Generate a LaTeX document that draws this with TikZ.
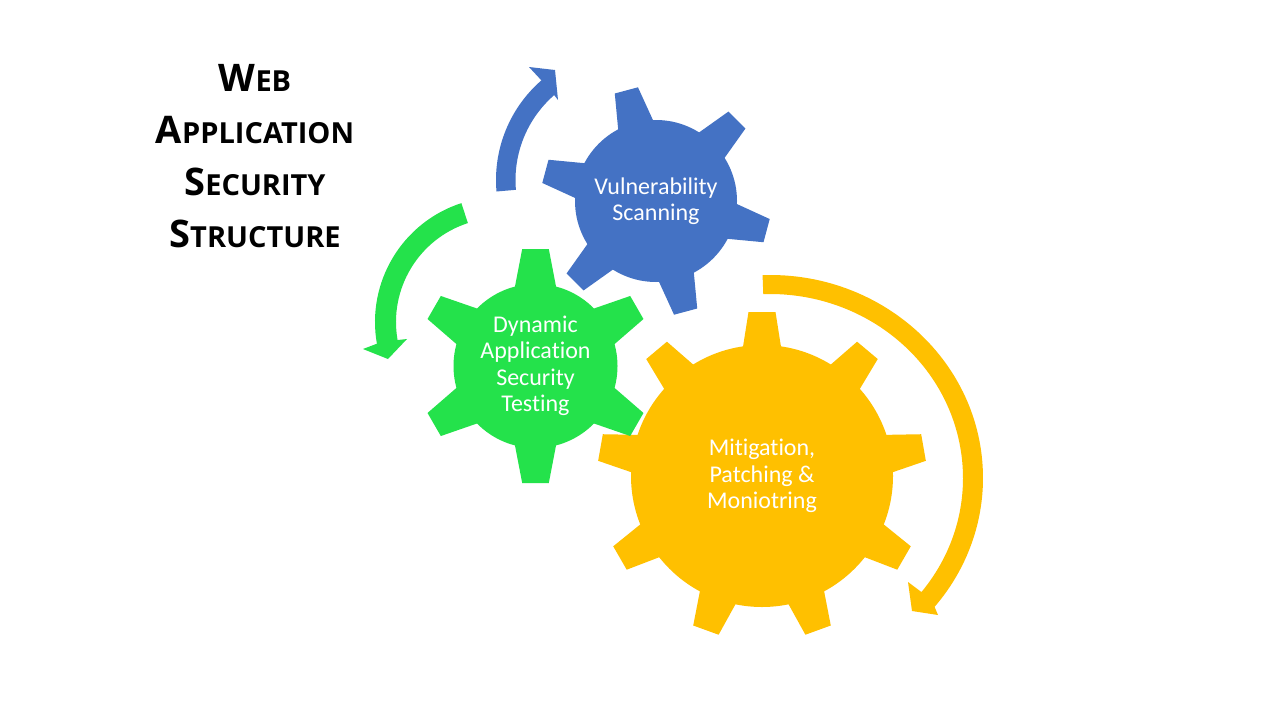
\documentclass[tikz,border=0pt]{standalone}
\usepackage{fontspec}
\setmainfont{Carlito}[Ligatures=NoCommon]
\newfontfamily\titlefont{Open Sans}
\usepackage{tikz}
\usetikzlibrary{calc}
\definecolor{gearblue}{HTML}{4472C4}
\definecolor{geargreen}{HTML}{24E24B}
\definecolor{gearyellow}{HTML}{FFC000}
\newcommand{\tcap}[2]{{\fontsize{38}{52}\selectfont #1}{\fontsize{29}{52}\selectfont #2}}
% colour, centre, inner radius, outer radius, teeth, first angle, tip half width, base half width
\newcommand{\gear}[8]{%
	\fill[#1] (#2) circle[radius=#3];
	\foreach \k in {1,...,#5}{
		\pgfmathsetmacro{\ga}{#6+(\k-1)*360/#5}
		\fill[#1, shift={(#2)}, rotate=-\ga]
			({#3-5},-#8) -- (#4,-#7) -- (#4,#7) -- ({#3-5},#8) -- cycle;
	}
}

\begin{document}
\begin{tikzpicture}[
			x=1pt, y=-1pt,
			title/.style={
					align=center, inner sep=0pt, font=\titlefont\bfseries\fontsize{38}{52}\selectfont
				},
			geartext/.style={
					align=center, inner sep=0pt, text=white, font=\fontsize{24}{26.5}\selectfont
				}
		]
		\fill[white] (0,0) rectangle (1280,720);
		\useasboundingbox (0,0) rectangle (1280,720);

		% Centres of the gears and of the round arrows
		\coordinate (vsc) at (656,201);
		\coordinate (dastc) at (535.5,366);
		\coordinate (mpmc) at (762,476);
		\coordinate (varc) at (628,180);
		\coordinate (darc) at (500,322);
		\coordinate (marc) at (770,478);

		% Round arrows
		\fill[gearblue] ($(varc)+(175:132)$) arc[start angle=175, end angle=229, radius=132]
			-- (529,67) -- (555,70) -- (558,100)
			-- ($(varc)+(229:112.5)$) arc[start angle=229, end angle=175, radius=112.5] -- cycle;
		\fill[geargreen] ($(darc)+(252:125)$) arc[start angle=252, end angle=170, radius=125]
			-- (363,349) -- (388,359) -- (407,339)
			-- ($(darc)+(170:104)$) arc[start angle=170, end angle=252, radius=104] -- cycle;
		\fill[gearyellow] ($(marc)+(-92:213 and 203)$) arc[start angle=-92, end angle=39.4, x radius=213, y radius=203]
			-- (938,615) -- (912,611) -- (908,582)
			-- ($(marc)+(38.3:193 and 184)$) arc[start angle=38.3, end angle=-92, x radius=193, y radius=184] -- cycle;

		% Gears
		\gear{gearyellow}{mpmc}{131}{164}{9}{-90}{13.5}{19.5}
		\gear{gearblue}{vsc}{81}{114.5}{6}{15}{12}{18.5}
		\gear{geargreen}{dastc}{82}{117}{6}{30}{13.3}{21}

		% Texts
		\node[title, anchor=north] (ttl) at (255,64) {\tcap{W}{EB}\\\tcap{A}{PPLICATION}\\\tcap{S}{ECURITY}\\\tcap{S}{TRUCTURE}};
		\node[geartext] (vs) at (vsc) {Vulnerability\\Scanning};
		\node[geartext] (dast) at (dastc) {Dynamic\\Application\\Security\\Testing};
		\node[geartext] (mpm) at (mpmc) {Mitigation,\\Patching \&\\Moniotring};

	\end{tikzpicture}
\end{document}
